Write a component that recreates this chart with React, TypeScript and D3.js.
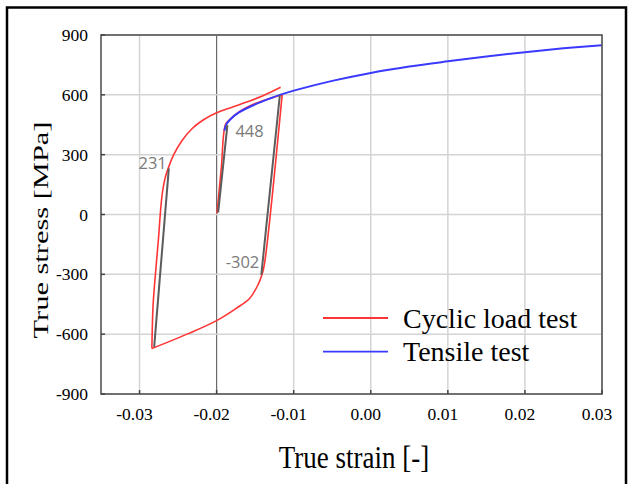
import React from 'react';
import * as d3 from 'd3';

type Pt = [number, number];

const xTicks = [-0.03, -0.02, -0.01, 0, 0.01, 0.02, 0.03];
const xTickLabels = ['-0.03', '-0.02', '-0.01', '0.00', '0.01', '0.02', '0.03'];
const yTicks = [-900, -600, -300, 0, 300, 600, 900];
const yTickLabels = ['-900', '-600', '-300', '0', '300', '600', '900'];

// Cyclic load test (red), split into its three branches
const cyclicLoading: Pt[] = [
  [-0.01995, 6], [-0.0194, 230], [-0.01886, 450], [-0.0184, 472], [-0.0171, 514],
  [-0.0150, 556], [-0.0130, 583], [-0.0115, 600],
];
const cyclicUnloading: Pt[] = [
  [-0.0115, 600], [-0.0138, -250], [-0.0141, -300], [-0.0146, -350], [-0.0157, -420],
  [-0.0175, -472], [-0.0200, -532], [-0.0236, -596], [-0.0284, -672],
];
const cyclicReloading: Pt[] = [
  [-0.0284, -672], [-0.02825, -461], [-0.0280, -327], [-0.02756, -128], [-0.0271, 89],
  [-0.0267, 180], [-0.0262, 240], [-0.0255, 305], [-0.0245, 370], [-0.0232, 430],
  [-0.0217, 475], [-0.0200, 510], [-0.0180, 538], [-0.0160, 565], [-0.0140, 595],
  [-0.0117, 638],
];
// Tensile test (blue)
const tensile: Pt[] = [
  [-0.0190, 420], [-0.0187, 455], [-0.0182, 478], [-0.0171, 512], [-0.0150, 552],
  [-0.0130, 583], [-0.0117, 601], [-0.010, 621], [-0.005, 670], [0.0, 710],
  [0.005, 742], [0.010, 768], [0.015, 792], [0.020, 814], [0.025, 833], [0.030, 849],
];
// Elastic reference lines (gray) and their labelled stress values
const elasticLines: { from: Pt; to: Pt; label: string }[] = [
  { from: [-0.0281, -664], to: [-0.0262, 231], label: '231' },
  { from: [-0.0198, 10], to: [-0.0186, 448], label: '448' },
  { from: [-0.0118, 598], to: [-0.0142, -302], label: '-302' },
];
const legendItems = [
  { name: 'Cyclic load test', color: '#ff3535' },
  { name: 'Tensile test', color: '#3a3aff' },
];

const W = 628;
const H = 484;
const left = 101, right = 602, top = 35, bottom = 394;

export default function App() {
  const x = d3.scaleLinear().domain([-0.035, 0.03]).range([left, right]);
  const y = d3.scaleLinear().domain([-900, 900]).range([bottom, top]);
  const line = d3
    .line<Pt>()
    .x((d) => x(d[0]))
    .y((d) => y(d[1]))
    .curve(d3.curveCatmullRom.alpha(0.5));

  const serif = '"Liberation Serif", "Times New Roman", serif';
  const sans = '"Open Sans", "DejaVu Sans", sans-serif';

  const labelPos = [
    { dx: -2, dy: 1, anchor: 'end' },
    { dx: 8, dy: 12, anchor: 'start' },
    { dx: -2, dy: -7, anchor: 'end' },
  ];

  return (
    <svg width={W} height={H} style={{ position: 'absolute', left: 0, top: 0, background: '#fff' }}>
      <rect x={0} y={0} width={W} height={H} fill="#fff" />
      {/* outer frame */}
      <rect x={7} y={7.5} width={619} height={490} fill="none" stroke="#000" strokeWidth={2.5} />

      {/* grid */}
      {xTicks.map((t) => (
        <line key={'gx' + t} x1={x(t)} x2={x(t)} y1={top} y2={bottom}
          stroke={t === -0.02 ? '#6a6a6a' : '#d4d4d4'} strokeWidth={t === -0.02 ? 1.2 : 1.5} />
      ))}
      {yTicks.map((t) => (
        <line key={'gy' + t} x1={left} x2={right} y1={y(t)} y2={y(t)} stroke="#d4d4d4" strokeWidth={1.5} />
      ))}

      {/* curves */}
      {[cyclicLoading, cyclicUnloading, cyclicReloading].map((seg, i) => (
        <path key={'r' + i} d={line(seg) || ''} fill="none" stroke={legendItems[0].color} strokeWidth={1.6} />
      ))}
      <path d={line(tensile) || ''} fill="none" stroke={legendItems[1].color} strokeWidth={2} />

      {elasticLines.map((l, i) => {
        const p = labelPos[i];
        const pt = l.to;
        return (
          <g key={'e' + i}>
            <line x1={x(l.from[0])} y1={y(l.from[1])} x2={x(l.to[0])} y2={y(l.to[1])}
              stroke="#5c5c5c" strokeWidth={2} />
            <text x={x(pt[0]) + p.dx} y={y(pt[1]) + p.dy} textAnchor={p.anchor as any}
              fontFamily={sans} fontSize={16.5} fill="#7a7a7a">{l.label}</text>
          </g>
        );
      })}

      {/* axes frame */}
      <rect x={left} y={top} width={right - left} height={bottom - top} fill="none" stroke="#555" strokeWidth={1.6} />
      {xTicks.map((t) => (
        <line key={'tx' + t} x1={x(t)} x2={x(t)} y1={bottom} y2={bottom - 4} stroke="#444" strokeWidth={1.5} />
      ))}
      {yTicks.map((t) => (
        <line key={'ty' + t} x1={left} x2={left + 4} y1={y(t)} y2={y(t)} stroke="#444" strokeWidth={1.5} />
      ))}

      {/* tick labels */}
      {xTicks.map((t, i) => (
        <text key={'lx' + t} x={x(t) - 5} y={420} textAnchor="middle" fontFamily={serif} fontSize={17.5} fill="#000">
          {xTickLabels[i]}
        </text>
      ))}
      {yTicks.map((t, i) => (
        <text key={'ly' + t} x={88} y={y(t) + 6} textAnchor="end" fontFamily={serif} fontSize={17.5} fill="#000">
          {yTickLabels[i]}
        </text>
      ))}

      {/* axis titles */}
      <text transform="translate(354,467.5) scale(1,1.15)" textAnchor="middle" fontFamily={serif} fontSize={27} fill="#000">
        True strain [-]
      </text>
      <text transform="translate(48,230) rotate(-90) scale(1.45,1)" textAnchor="middle" fontFamily={serif} fontSize={21} fill="#000">
        True stress [MPa]
      </text>

      {/* legend */}
      {legendItems.map((it, i) => (
        <g key={'lg' + i}>
          <line x1={323} x2={388} y1={318 + i * 33.7} y2={318 + i * 33.7} stroke={it.color} strokeWidth={1.8} />
          <text x={403} y={327.5 + i * 33.3} fontFamily={serif} fontSize={28} fill="#000">{it.name}</text>
        </g>
      ))}
    </svg>
  );
}
